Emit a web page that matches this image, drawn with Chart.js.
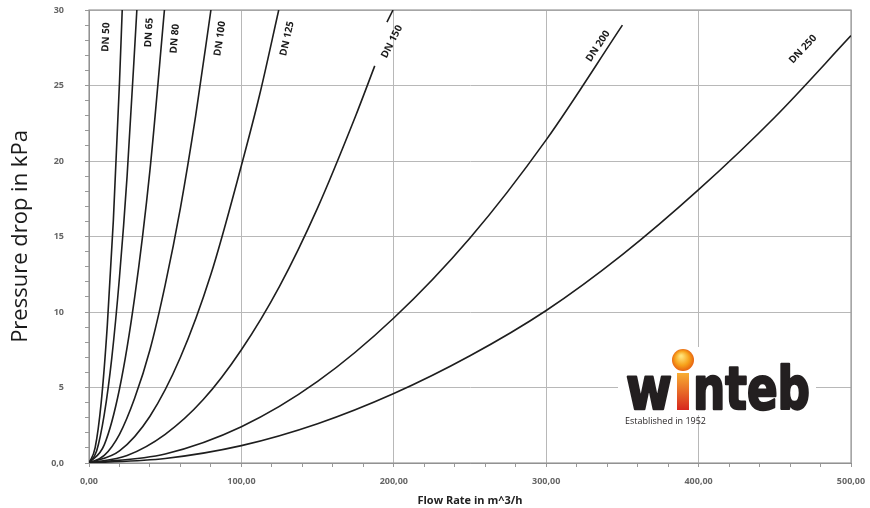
<!DOCTYPE html>
<html>
<head>
<meta charset="utf-8">
<script src="https://cdn.jsdelivr.net/npm/chart.js@4"></script>
<style>
  body { margin: 0; background: #fff; }
  canvas { display: block; }
</style>
</head>
<body>
<canvas id="chart1" width="870" height="508"></canvas>
<script>
// pipe sizes and curves (flow m^3/h, drop kPa)
const sizes = ['DN 50', 'DN 65', 'DN 80', 'DN 100', 'DN 125', 'DN 150', 'DN 200', 'DN 250'];

const flowDN50 = [0, 4, 8, 12, 16, 20, 21.8];
const dropDN50 = [0, 1.0, 4.0, 9.1, 16.1, 25.2, 30];
const flowDN65 = [0, 5, 10, 15, 20, 25, 31.4];
const dropDN65 = [0, 0.8, 3.2, 7.0, 12.3, 19.0, 30];
const flowDN80 = [0, 10, 20, 30, 40, 49.5];
const dropDN80 = [0, 1.2, 4.9, 11.0, 19.4, 30];
const flowDN100 = [0, 10, 20, 30, 40, 50, 60, 70, 80];
const dropDN100 = [0, 0.5, 1.9, 4.3, 7.5, 11.8, 16.9, 23.0, 30];
const flowDN125 = [0, 20, 40, 60, 80, 100, 112, 124.5];
const dropDN125 = [0, 0.8, 3.1, 7.0, 12.5, 19.7, 24.4, 30];
const flowDN150 = [0, 25, 50, 75, 100, 125, 150, 175, 187.5, 192, 195.5, 199.5];
const dropDN150 = [0, 0.5, 1.9, 4.2, 7.5, 11.7, 16.9, 23.0, 26.3, null, 29.2, 30];
const flowDN200 = [0, 50, 100, 150, 200, 250, 300, 350];
const dropDN200 = [0, 0.6, 2.4, 5.4, 9.6, 14.9, 21.4, 29.0];
const flowDN250 = [0, 50, 100, 150, 200, 250, 300, 350, 400, 450, 500];
const dropDN250 = [0, 0.3, 1.15, 2.6, 4.6, 7.1, 10.1, 13.8, 18.1, 22.9, 28.3];

// where each DN label sits, in data units
const labelFlow = [11.2, 39.4, 56.4, 86, 130, 198.8, 334, 468.5];
const labelDrop = [28.2, 28.5, 28.1, 28.1, 28.1, 27.9, 27.6, 27.4];

const flows = [flowDN50, flowDN65, flowDN80, flowDN100, flowDN125, flowDN150, flowDN200, flowDN250];
const drops = [dropDN50, dropDN65, dropDN80, dropDN100, dropDN125, dropDN150, dropDN200, dropDN250];

const FONT = '"Open Sans", "DejaVu Sans", sans-serif';

// DN labels rotated along the end of each curve
const dnLabels = {
  id: 'dnLabels',
  afterDatasetsDraw(chart){
    const c = chart.ctx, xs = chart.scales.x, ys = chart.scales.y;
    c.save();
    c.fillStyle = '#1a1a1a';
    c.font = 'bold 10px ' + FONT;
    c.textAlign = 'center';
    c.textBaseline = 'middle';
    sizes.forEach((name, i) => {
      const f = flows[i], d = drops[i];
      const n = f.length;
      const x1 = xs.getPixelForValue(f[n-2]), y1 = ys.getPixelForValue(d[n-2]);
      const x2 = xs.getPixelForValue(f[n-1]), y2 = ys.getPixelForValue(d[n-1]);
      const ang = Math.atan2(y2 - y1, x2 - x1);
      c.save();
      c.translate(xs.getPixelForValue(labelFlow[i]), ys.getPixelForValue(labelDrop[i]));
      c.rotate(ang);
      c.fillText(name, 0, 0);
      c.restore();
    });
    c.restore();
  }
};

// plot frame
const frame = {
  id: 'frame',
  beforeDatasetsDraw(chart){
    const a = chart.chartArea, c = chart.ctx;
    c.save();
    c.strokeStyle = '#999';
    c.lineWidth = 1.2;
    c.strokeRect(a.left, a.top, a.right - a.left, a.bottom - a.top);
    c.restore();
  }
};

function fitText(c, t, x1, x2, base){
  const w = c.measureText(t).width;
  c.save();
  c.translate(x1, base);
  c.scale((x2 - x1) / w, 1);
  c.fillText(t, 0, 0);
  c.strokeText(t, 0, 0);
  c.restore();
}

// company logo, drawn as text
const logo = {
  id: 'logo',
  afterDatasetsDraw(chart){
    const c = chart.ctx;
    c.save();
    c.fillStyle = '#fff';
    c.fillRect(618, 347, 198, 68);
    const g = c.createRadialGradient(681, 356, 1, 683, 360, 12);
    g.addColorStop(0, '#ffe27a');
    g.addColorStop(0.55, '#f7a21b');
    g.addColorStop(1, '#e4570f');
    c.fillStyle = g;
    c.beginPath(); c.arc(683, 360, 11, 0, Math.PI*2); c.fill();
    const s = c.createLinearGradient(0, 372, 0, 410);
    s.addColorStop(0, '#f9b233');
    s.addColorStop(1, '#d7261e');
    c.fillStyle = s;
    c.fillRect(677, 373, 12, 37);
    c.fillStyle = '#231f20';
    c.strokeStyle = '#231f20';
    c.lineWidth = 2.5;
    c.lineJoin = 'round';
    c.font = 'bold 58px "DejaVu Sans"';
    c.textBaseline = 'alphabetic';
    fitText(c, 'w', 626, 672, 409);
    fitText(c, 'nteb', 693, 810, 409);
    c.font = '9px ' + FONT;
    c.fillText('Established in 1952', 625, 424);
    c.restore();
  }
};

new Chart(document.getElementById('chart1').getContext('2d'), {
  type: 'scatter',
  data: {
    datasets: sizes.map((name, i) => ({
      label: name,
      data: flows[i].map((x, j) => ({ x, y: drops[i][j] })),
      showLine: true,
      borderColor: '#1e1e1e',
      borderWidth: 1.6,
      pointRadius: 0,
      cubicInterpolationMode: 'monotone',
      fill: false
    }))
  },
  options: {
    responsive: false,
    animation: false,
    devicePixelRatio: 1,
    layout: { padding: { top: 10, right: 19, left: 0, bottom: 0 } },
    plugins: { legend: { display: false }, tooltip: { enabled: false } },
    scales: {
      x: {
        type: 'linear', min: 0, max: 500,
        afterFit: s => { s.height = 45; s.paddingLeft = 0; s.paddingRight = 0; },
        border: { color: '#888' },
        grid: {
          color: c => c.tick && c.tick.value % 100 === 0 ? '#b8b8b8' : 'rgba(0,0,0,0)',
          tickColor: '#999', tickLength: 4
        },
        ticks: {
          stepSize: 20, autoSkip: false, maxRotation: 0, padding: 9,
          color: '#666', font: { family: FONT, size: 9, weight: 'bold' },
          callback: v => v % 100 === 0 ? v.toFixed(2).replace('.', ',') : ''
        },
        title: {
          display: true, text: 'Flow Rate in m^3/h', color: '#222',
          font: { family: FONT, size: 11, weight: 'bold' },
          padding: { top: 0, bottom: 1 }
        }
      },
      y: {
        min: 0, max: 30,
        afterFit: s => { s.width = 89; s.paddingTop = 0; s.paddingBottom = 0; },
        border: { color: '#888' },
        grid: {
          color: c => c.tick && c.tick.value % 5 === 0 ? '#b8b8b8' : 'rgba(0,0,0,0)',
          tickColor: '#999', tickLength: 4
        },
        ticks: {
          stepSize: 1, autoSkip: false, padding: 21,
          color: '#666', font: { family: FONT, size: 9, weight: 'bold' },
          callback: v => v === 0 ? '0,0' : (v % 5 === 0 ? String(v) : '')
        },
        title: {
          display: true, text: 'Pressure drop in kPa', color: '#1a1a1a',
          font: { family: FONT, size: 22 },
          padding: { top: 8, bottom: 0 }
        }
      }
    }
  },
  plugins: [frame, dnLabels, logo]
});
</script>
</body>
</html>
